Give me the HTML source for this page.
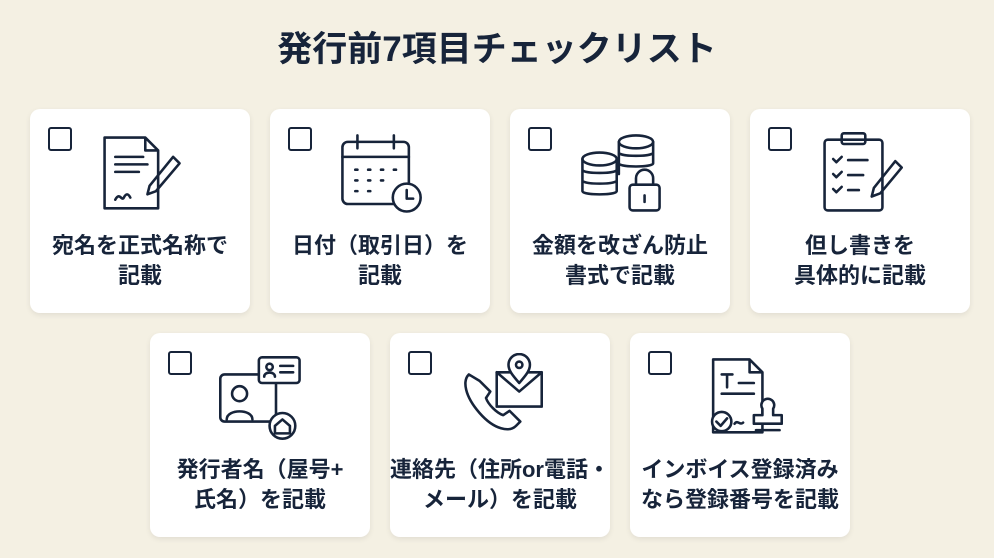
<!DOCTYPE html>
<html><head><meta charset="utf-8"><style>
body{margin:0;width:994px;height:558px;background:#f4f0e3;font-family:"Liberation Sans","Noto Sans CJK JP",sans-serif;color:#17243a;position:relative;overflow:hidden}
h1{position:absolute;top:28px;left:0;width:994px;text-align:center;margin:0;font-size:35px;line-height:44px;font-weight:bold}
.c{position:absolute;width:220px;height:204px;background:#fff;border-radius:10px;box-shadow:0 2px 6px rgba(0,0,0,.08)}
.cb{position:absolute;left:18px;top:18px;width:20px;height:20px;border:2.5px solid #17243a;border-radius:3px}
.ic{position:absolute;left:66px;top:20px;width:90px;height:90px}
.t{position:absolute;left:-10px;top:122px;width:240px;text-align:center;font-size:22px;font-weight:bold;line-height:30px}
svg{fill:none;stroke:#17243a;stroke-width:2.4;stroke-linecap:round;stroke-linejoin:round}
</style></head><body>
<h1>発行前7項目チェックリスト</h1>

<div class="c" style="left:30px;top:109px"><div class="cb"></div>
<svg class="ic" viewBox="0 0 84 84"><path d="M8 8h38l12 12v54H8z M46 8v12h12"/><path d="M18 26h26M18 33h30M18 40h22"/><path d="M18 66c4-8 6 2 8-2s4-4 6 0"/><path d="M72 26l6 6-22 26-8 3 2-8z"/></svg>
<div class="t">宛名を正式名称で<br>記載</div></div>

<div class="c" style="left:270px;top:109px"><div class="cb"></div>
<svg class="ic" viewBox="0 0 84 84"><rect x="6" y="12" width="62" height="58" rx="5"/><path d="M6 26h62M20 6v12M54 6v12"/><path d="M18 38h2M30 38h2M42 38h2M54 38h2M18 48h2M30 48h2M42 48h2M18 58h2M30 58h2"/><circle cx="66" cy="64" r="13" fill="#fff"/><path d="M66 57v8h6"/></svg>
<div class="t">日付（取引日）を<br>記載</div></div>

<div class="c" style="left:510px;top:109px"><div class="cb"></div>
<svg class="ic" viewBox="0 0 84 84"><ellipse cx="22" cy="28" rx="16" ry="6"/><path d="M6 28v30c0 4 32 4 32 0V28M6 38c0 4 32 4 32 0M6 48c0 4 32 4 32 0"/><ellipse cx="56" cy="12" rx="16" ry="6"/><path d="M40 12v30M72 12v20M40 22c0 4 32 4 32 0M40 32c0 4 32 4 32 0"/><rect x="50" y="52" width="28" height="24" rx="3" fill="#fff"/><path d="M56 52v-6a8 8 0 0 1 16 0v6M64 62v6"/></svg>
<div class="t">金額を改ざん防止<br>書式で記載</div></div>

<div class="c" style="left:750px;top:109px"><div class="cb"></div>
<svg class="ic" viewBox="0 0 84 84"><rect x="8" y="10" width="54" height="66" rx="3"/><rect x="24" y="4" width="22" height="10" rx="2"/><path d="M16 28l3 3 5-5M16 42l3 3 5-5M16 56l3 3 5-5M30 29h18M30 43h14M30 57h10"/><path d="M74 30l6 6-20 24-8 3 2-8z"/></svg>
<div class="t">但し書きを<br>具体的に記載</div></div>

<div class="c" style="left:150px;top:333px"><div class="cb"></div>
<svg class="ic" viewBox="0 0 84 84"><rect x="4" y="20" width="52" height="44" rx="4"/><circle cx="22" cy="38" r="7"/><path d="M10 62c0-10 24-10 24 0"/><rect x="40" y="4" width="38" height="24" rx="3" fill="#fff"/><circle cx="50" cy="13" r="3"/><path d="M45 22c0-5 10-5 10 0M60 12h12M60 18h12"/><circle cx="62" cy="68" r="12" fill="#fff"/><path d="M55 68l7-6 7 6v7H55z"/></svg>
<div class="t">発行者名（屋号+<br>氏名）を記載</div></div>

<div class="c" style="left:390px;top:333px"><div class="cb"></div>
<svg class="ic" viewBox="0 0 84 84"><path d="M12 20c-6 6-4 20 10 36s28 18 34 12l4-4-10-10-6 4c-6-2-14-10-16-16l4-6-10-10z"/><rect x="38" y="18" width="42" height="32"/><path d="M38 18l21 18 21-18"/><path d="M59 28c-7-8-10-12-10-17a10 10 0 0 1 20 0c0 5-3 9-10 17z" fill="#fff"/><circle cx="59" cy="11" r="3"/></svg>
<div class="t">連絡先（住所or電話・<br>メール）を記載</div></div>

<div class="c" style="left:630px;top:333px"><div class="cb"></div>
<svg class="ic" viewBox="0 0 84 84"><path d="M16 6h34l12 12v56H16z M50 6v12h12"/><path d="M24 20h10M29 20v12M40 28h14M24 38h30"/><circle cx="24" cy="64" r="9" fill="#fff"/><path d="M19 64l4 4 6-7M36 66c3-4 5 2 8-1"/><path d="M62 52a6 6 0 1 1 10 0v6h8v8H54v-8h8z" fill="#fff"/><path d="M56 72h22"/></svg>
<div class="t">インボイス登録済み<br>なら登録番号を記載</div></div>
</body></html>
